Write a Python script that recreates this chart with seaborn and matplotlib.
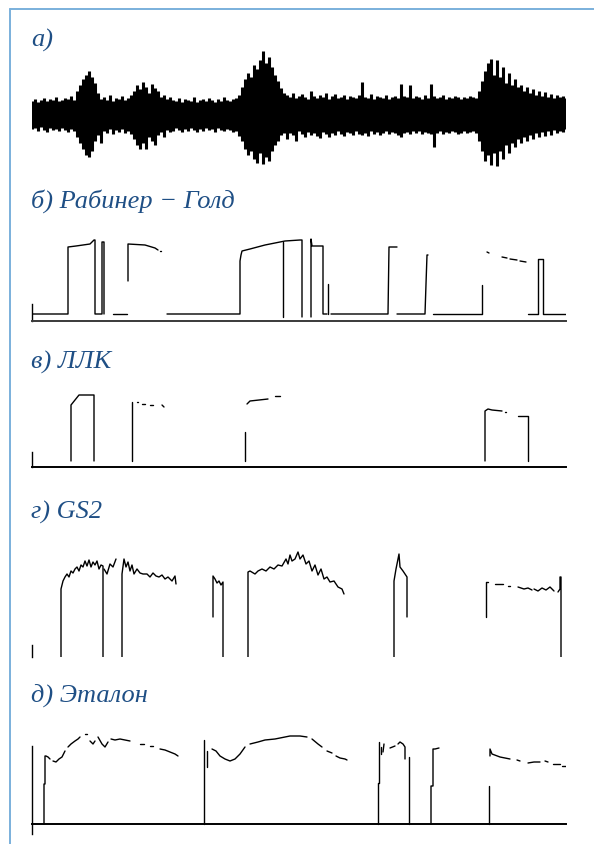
import numpy as np
import pandas as pd
import matplotlib
matplotlib.use("Agg")
import matplotlib.pyplot as plt
from matplotlib.lines import Line2D
import seaborn as sns

# --- panel titles ---
titles = ["а)", "б) Рабинер − Голд", "в) ЛЛК", "г) GS2", "д) Эталон"]

# --- a) speech waveform: amplitude above / below the zero line, one value per 3 frames ---
wave_up = [14, 16, 13, 15, 17, 14, 16, 15, 18, 14, 15, 17, 16, 19, 15,
           24, 30, 36, 40, 44, 38, 32,
           22, 16, 18, 15, 20, 14, 17, 16, 19, 15, 17,
           20, 24, 30, 26, 33, 28, 22, 31, 27, 24, 18, 20, 16, 18,
           15, 14, 17, 13, 16, 15, 14, 18, 13, 15, 16, 14, 17, 15, 13, 16, 14, 18, 15, 14, 16, 17, 20,
           28, 36, 42, 38, 50, 46, 55, 64, 52, 58, 48, 40, 34, 27, 22,
           20, 18, 22, 17, 19, 21, 18, 16, 24, 19, 17, 20, 18, 22, 16, 19, 21, 17, 18, 20, 16, 19, 18, 17, 20,
           33,
           18, 17, 21, 16, 19, 18, 17, 20, 16, 18, 19, 17,
           31,
           19, 18, 30, 17, 19, 18, 16, 20, 17,
           31,
           19, 17, 18, 20, 16, 18, 17, 19, 18, 16, 18, 17, 19, 18, 17,
           24, 34, 44, 52, 56, 40, 55, 38, 48, 32, 42, 30, 36, 28,
           30, 24, 28, 22, 26, 20, 24, 19, 23, 18, 21, 17, 20, 18, 19, 17]
wave_down = [14, 13, 16, 12, 15, 17, 13, 15, 14, 16, 13, 15, 17, 14, 16,
             22, 28, 34, 40, 42, 36, 26,
             20, 28, 16, 18, 14, 19, 15, 17, 14, 18, 16,
             19, 24, 30, 34, 28, 34, 22, 26, 30, 20, 17, 22, 15, 17,
             16, 13, 15, 17, 14, 16, 13, 15, 17, 14, 16, 13, 15, 14, 17, 13, 15, 16, 14, 15, 17, 16, 21,
             26, 34, 40, 36, 44, 48, 38, 49, 42, 46, 36, 30, 26, 20, 18,
             24, 18, 20, 26, 16, 19, 22, 17, 20, 18, 21, 23, 17, 19, 22, 18, 20, 16, 19, 21, 17, 18, 20, 16, 19,
             20,
             18, 21, 16, 19, 17, 20, 18, 16, 19, 17, 18, 20,
             22,
             18, 17, 19, 16, 18, 16, 19, 17, 18,
             19,
             32, 18, 16, 19, 17, 18, 16, 17, 19, 18, 16, 18, 17, 16, 18,
             26, 36, 46, 40, 50, 38, 51, 36, 44, 30, 38, 28, 32, 24,
             28, 22, 26, 20, 24, 18, 22, 17, 21, 16, 20, 15, 18, 16, 17, 14]
wave_frames = list(range(0, 3 * len(wave_up), 3))

# --- b) Rabiner - Gold pitch track: (frames, levels) per piece ---
rabiner = [
    ([1, 36, 36, 44, 58, 62, 63, 63, 70, 70, 72, 72], [7, 7, 74, 75, 77, 81, 81, 7, 7, 79, 79, 7]),
    ([81, 95], [7, 7]),
    ([96, 96, 113, 123, 126], [40, 77, 76, 73, 71]),
    ([128, 129], [70, 70]),
    ([135, 208, 208, 209, 210, 218, 233, 243, 253, 268, 270, 270], [7, 7, 60, 66, 70, 72, 76, 78, 80, 81, 81, 4]),
    ([251, 251], [79, 4]),
    ([279, 279, 280, 291, 291, 295], [4, 82, 75, 75, 7, 7]),
    ([296, 296], [37, 7]),
    ([299, 356, 357, 365], [7, 7, 74, 74]),
    ([365, 393, 394, 395, 396], [7, 7, 37, 66, 66]),
    ([401, 450, 450], [7, 7, 36]),
    ([455, 457], [69, 68]),
    ([470, 475], [64, 63]),
    ([478, 485], [62, 61]),
    ([488, 494], [60, 59]),
    ([496, 506, 506, 511, 511, 534], [7, 7, 62, 62, 7, 7]),
]

# --- c) LLK ---
llk = [
    ([39, 39, 47, 62, 62], [6, 62, 72, 72, 6]),
    ([100, 100], [6, 65]),
    ([105, 106], [65, 65]),
    ([110, 113], [63, 63]),
    ([118, 121], [62, 62]),
    ([130, 132], [62, 60]),
    ([213, 213], [6, 35]),
    ([215, 218, 236], [63, 66, 68]),
    ([243, 248], [71, 71]),
    ([453, 453, 456, 460, 470], [6, 56, 58, 57, 56]),
    ([473, 474], [55, 55]),
    ([486, 496, 496], [51, 51, 6]),
]

# --- d) GS2 ---
gs2 = [
    ([29, 29, 31, 33, 35, 37, 39, 41, 43, 45, 47, 49, 51, 53, 55, 57, 59, 61, 63, 65, 67, 69, 71, 71],
     [0, 68, 76, 80, 83, 80, 86, 84, 88, 90, 86, 92, 90, 96, 91, 97, 90, 95, 92, 96, 88, 92, 91, 0]),
    ([72, 75, 78, 81, 84], [88, 83, 93, 90, 98]),
    ([90, 90, 92, 94, 96, 98, 100, 102, 105, 108, 111, 115, 118, 121, 124, 127, 130, 133, 136, 140, 143, 144],
     [0, 83, 98, 90, 95, 86, 92, 83, 88, 84, 83, 83, 80, 84, 81, 80, 82, 78, 80, 76, 81, 73]),
    ([181, 181, 183, 185, 187, 189, 191, 191], [40, 81, 78, 74, 76, 72, 75, 0]),
    ([216, 216, 218, 223, 226, 230, 234, 238, 242, 246, 250, 254, 256, 258, 260, 263, 266, 268, 271, 274,
      277, 280, 283, 286, 289, 292, 295, 298, 302, 306, 310, 312],
     [0, 85, 86, 83, 86, 88, 86, 90, 88, 92, 91, 98, 93, 102, 96, 98, 105, 98, 102, 93,
      96, 86, 92, 82, 88, 78, 80, 75, 76, 70, 68, 63]),
    ([362, 362, 364, 367, 368, 371, 375, 375], [0, 76, 88, 103, 90, 86, 80, 40]),
    ([454, 454, 456], [40, 75, 75]),
    ([463, 471], [73, 73]),
    ([476, 478], [71, 71]),
    ([486, 492, 496, 500], [70, 68, 69, 67]),
    ([502, 506, 510, 514, 518, 522], [68, 66, 69, 67, 70, 66]),
    ([526, 528, 528, 529, 529], [65, 68, 80, 80, 0]),
]

# --- e) reference pitch ---
etalon = [
    ([12, 12, 13, 13, 14, 16, 18], [0, 40, 40, 68, 68, 67, 65]),
    ([21, 24, 27, 30, 33], [63, 62, 65, 67, 73]),
    ([36, 39, 43, 46, 48], [77, 80, 83, 85, 87]),
    ([53, 55], [90, 90]),
    ([58, 61, 63], [83, 80, 83]),
    ([66, 70, 73, 76], [87, 80, 77, 82]),
    ([79, 83, 88, 93, 98], [85, 84, 85, 84, 83]),
    ([108, 112], [80, 80]),
    ([118, 121], [78, 78]),
    ([128, 133, 138, 143, 146], [75, 74, 72, 70, 68]),
    ([172, 172], [0, 84]),
    ([175, 175], [57, 73]),
    ([180, 184, 188, 193, 198, 203, 208, 213], [75, 73, 68, 65, 63, 65, 70, 77]),
    ([218, 226, 233, 243, 253, 258, 268, 275], [80, 82, 84, 85, 87, 88, 88, 87]),
    ([280, 286, 290], [85, 80, 77]),
    ([295, 300], [73, 71]),
    ([304, 308, 313, 315], [68, 66, 65, 64]),
    ([346, 346, 347, 347], [0, 41, 41, 82]),
    ([349, 349], [70, 77]),
    ([351, 352], [72, 80]),
    ([358, 363], [76, 78]),
    ([366, 368, 371, 373, 373], [80, 82, 80, 77, 65]),
    ([377, 377], [67, 0]),
    ([399, 399, 401, 401, 403, 407], [0, 38, 38, 75, 75, 76]),
    ([457, 457], [0, 38]),
    ([458, 458, 460, 468, 478], [68, 75, 70, 67, 65]),
    ([485, 488], [64, 63]),
    ([496, 502, 508], [61, 62, 62]),
    ([513, 516], [63, 62]),
    ([521, 528], [60, 60]),
    ([530, 534], [58, 58]),
]


def to_frame(pieces):
    rows = []
    for k, (fr, lv) in enumerate(pieces):
        for f, v in zip(fr, lv):
            rows.append((k, f, v))
    return pd.DataFrame(rows, columns=["seg", "frame", "level"])


sns.set_style("white")
plt.rcParams["font.family"] = ["Liberation Serif", "DejaVu Serif"]

W, H = 594, 845
fig = plt.figure(figsize=(W / 100, H / 100), dpi=100)


def px_axes(top, bottom):
    return fig.add_axes([32 / W, 1 - bottom / H, 534 / W, (bottom - top) / H])


title_color = "#1f4f85"
title_y = [40, 201, 362, 512, 695]
for t, y in zip(titles, title_y):
    fig.text(31 / W, 1 - y / H, t, fontsize=19, style="italic", color=title_color,
             va="center", ha="left")

# blue frame
frame_col = "#7ab0dc"
fig.add_artist(Line2D([10 / W, 10 / W], [0, 1 - 10 / H], transform=fig.transFigure,
                      color=frame_col, lw=1.4))
fig.add_artist(Line2D([10 / W, 1], [1 - 10 / H, 1 - 10 / H], transform=fig.transFigure,
                      color=frame_col, lw=1.4))

# a) waveform
ax = px_axes(40, 180)
center = 64
ax.vlines(wave_frames, [center - d for d in wave_down], [center + u for u in wave_up],
          color="black", lw=2.2)
ax.set_xlim(0, 534)
ax.set_ylim(0, 140)
ax.axis("off")

# pitch panels
panels = [
    (rabiner, 230, 322, (0, 92), True, (0, 17), "#3a3a3a"),
    (llk, 385, 468, (0, 83), True, (0, 15), "black"),
    (gs2, 540, 658, (0, 118), False, (0, 12), "black"),
    (etalon, 725, 837, (-12, 100), True, (-10, 78), "black"),
]
for pieces, top, bottom, ylim, show_axis, lbounds, axcol in panels:
    ax = px_axes(top, bottom)
    df = to_frame(pieces)
    sns.lineplot(data=df, x="frame", y="level", units="seg", estimator=None, sort=False,
                 color="black", lw=1.0, ax=ax, legend=False)
    ax.set_xlim(0, 534)
    ax.set_ylim(*ylim)
    ax.set(xlabel="", ylabel="", xticks=[], yticks=[])
    for s in ["top", "right"]:
        ax.spines[s].set_visible(False)
    ax.spines["bottom"].set_position(("data", 0))
    ax.spines["bottom"].set_visible(show_axis)
    ax.spines["bottom"].set_color(axcol)
    ax.spines["bottom"].set_linewidth(1.4)
    ax.spines["left"].set_bounds(*lbounds)
    ax.spines["left"].set_color("black")
    ax.spines["left"].set_linewidth(1.0)
    ax.patch.set_alpha(0)

fig.savefig("out.png", dpi=100)
